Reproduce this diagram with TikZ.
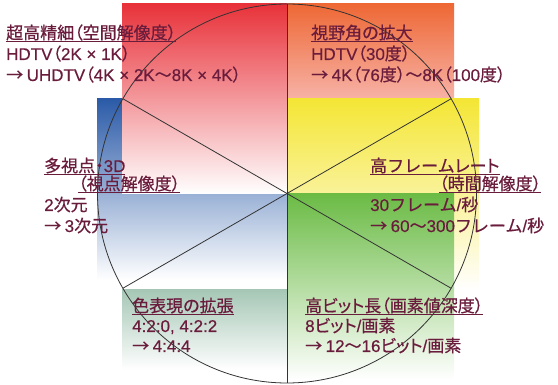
\documentclass[tikz,border=0pt]{standalone}
\usepackage{fontspec}
\setmainfont{Noto Sans CJK JP}[RawFeature=+palt, FakeBold=0.6]
\newfontfamily\kf{Noto Sans CJK JP}[FakeBold=0.6]
\newfontfamily\lat{Liberation Sans}[FakeBold=0.4]
\definecolor{txt}{HTML}{6A1C3C}
\definecolor{cred}{HTML}{E8323A}
\definecolor{corange}{HTML}{EE6835}
\definecolor{corangeb}{HTML}{F7B3A8}
\definecolor{cyellow}{HTML}{F4E635}
\definecolor{cgreen}{HTML}{6BBB45}
\definecolor{cblue}{HTML}{2B5BA8}
\definecolor{clav}{HTML}{A7ACD6}
\definecolor{cgray}{HTML}{A6C7B6}
\definecolor{cline}{HTML}{333333}
\newcommand\ulx[1]{\setbox0\hbox{#1}\rlap{\rule[-3pt]{\wd0}{0.9pt}}\box0}
\newcommand\arw{→\hspace{3.5pt}}
\begin{document}
\begin{tikzpicture}[x=1pt,y=-1pt,
  lbl/.style={inner sep=0pt, anchor=base west, text=txt, font=\fontsize{17}{21}\selectfont},
  wheel/.style={draw=cline, line width=0.8pt}]
\useasboundingbox (0,0) rectangle (558,385);
% colour panels
\shade[top color=cblue, middle color=clav, bottom color=white] (97,99) rectangle (287,280);
\shade[top color=cred, bottom color=white] (122,4) rectangle (287,194);
\shade[top color=corange, bottom color=corangeb] (287,4) rectangle (454,100);
\shade[top color=cyellow, bottom color=white] (287,99) rectangle (479,290);
\shade[top color=cgreen, bottom color=white] (287,194) rectangle (454,380);
\shade[top color=cgray, bottom color=white] (122,290) rectangle (287,370);
% wheel
\coordinate (O) at (287,193.5);
\draw[wheel] (O) circle [radius=189.5pt];
\foreach \a in {30,90,150,210,270,330}{\draw[wheel] (O) -- ++(\a:189.5pt);}
% texts
\node[lbl] (a1) at (6,39) {\ulx{超高精細（空間解像度）}};
\node[lbl] (a2) at (6,60) {{\lat HDTV}（{\lat 2K × 1K}）};
\node[lbl] (a3) at (6,81) {\arw{\lat UHDTV}（{\lat 4K × 2K}～{\lat 8K × 4K}）};
\node[lbl] (b1) at (311,39) {\ulx{視野角の拡大}};
\node[lbl] (b2) at (311,60) {{\lat HDTV}（{\lat 30}度）};
\node[lbl] (b3) at (311,81) {\arw{\lat 4K}（{\lat 76}度）～{\lat 8K}（{\lat 100}度）};
\node[lbl] (c1) at (44,172) {\ulx{多視点・{\lat 3D}}};
\node[lbl] (c2) at (78,190) {\ulx{（視点解像度）}};
\node[lbl] (c3) at (44,211) {{\lat 2}次元};
\node[lbl] (c4) at (44,232) {\arw{\lat 3}次元};
\node[lbl] (d1) at (370,172) {\ulx{高{\kf フレーム}レート}};
\node[lbl] (d2) at (439,190) {\ulx{（時間解像度）}};
\node[lbl] (d3) at (370,211) {{\lat 30}{\kf フレーム}{\lat /}秒};
\node[lbl] (d4) at (370,232) {\arw{\lat 60}～{\lat 300}{\kf フレーム}{\lat /}秒};
\node[lbl] (e1) at (132,312) {\ulx{色表現の拡張}};
\node[lbl] (e2) at (132,332) {{\lat 4:2:0, 4:2:2}};
\node[lbl] (e3) at (132,352) {\arw{\lat 4:4:4}};
\node[lbl] (f1) at (305,312) {\ulx{高ビット長（画素値深度）}};
\node[lbl] (f2) at (305,332) {{\lat 8}ビット{\lat /}画素};
\node[lbl] (f3) at (305,352) {\arw{\lat 12}～{\lat 16}ビット{\lat /}画素};
\end{tikzpicture}
\end{document}
